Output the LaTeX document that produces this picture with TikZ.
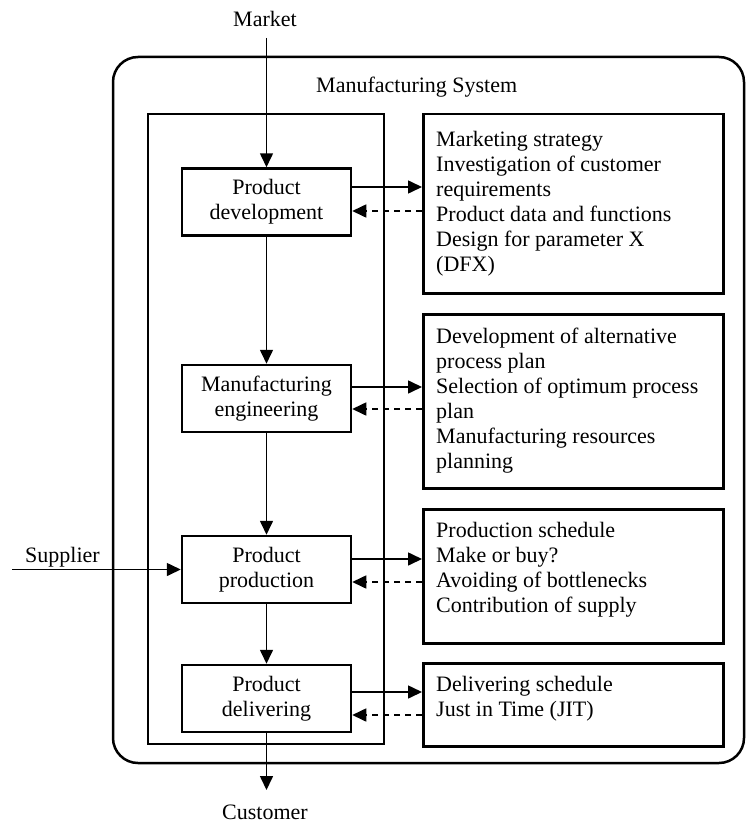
\documentclass[tikz,border=0pt]{standalone}
\usepackage{fontspec}
\setmainfont{Liberation Serif}
\usetikzlibrary{arrows.meta}
\begin{document}
\begin{tikzpicture}[x=1pt,y=-1pt,
  every node/.style={font=\fontsize{22}{25}\selectfont, inner sep=0pt},
  stagebox/.style={draw, line width=2.5pt, minimum width=169pt, minimum height=67pt, align=center},
  infobox/.style={draw, line width=2.5pt, minimum width=300pt, anchor=north west},
  infotext/.style={anchor=north west, align=left},
  flow/.style={line width=1.6pt, -{Triangle[length=14pt,width=13pt]}},
  back/.style={line width=1.6pt, dash pattern=on 6pt off 5pt, -{Triangle[length=14pt,width=13pt]}}
]
\useasboundingbox (0,0) rectangle (746,824);
% frames
\draw[line width=2.5pt, rounded corners=25pt] (113,57) rectangle (744,763);
\draw[line width=2.5pt] (148,114) rectangle (384,744);
\node[anchor=base west] (ms) at (316,93) {Manufacturing System};
% stage boxes
\node[stagebox] (pd) at (266.5,202) {Product\\development};
\node[stagebox] (me) at (266.5,398.5) {Manufacturing\\engineering};
\node[stagebox] (pp) at (266.5,569.5) {Product\\production};
\node[stagebox] (pdl) at (266.5,698.5) {Product\\delivering};
% info boxes
\node[infobox, minimum height=179pt] (b1) at (422,113) {};
\node[infobox, minimum height=174pt] (b2) at (422,313) {};
\node[infobox, minimum height=134pt] (b3) at (422,508) {};
\node[infobox, minimum height=83pt] (b4) at (422,662) {};
\node[infotext] (t1) at (436,131) {Marketing strategy\\Investigation of customer\\requirements\\Product data and functions\\Design for parameter X\\(DFX)};
\node[infotext] (t2) at (436,328) {Development of alternative\\process plan\\Selection of optimum process\\plan\\Manufacturing resources\\planning};
\node[infotext] (t3) at (436,522) {Production schedule\\Make or buy?\\Avoiding of bottlenecks\\Contribution of supply};
\node[infotext] (t4) at (436,676) {Delivering schedule\\Just in Time (JIT)};
% external labels
\node[anchor=base] (mk) at (265,27) {Market};
\node[anchor=base] (cu) at (265,819.5) {Customer};
\node[anchor=base] (su) at (62.5,562) {Supplier};
\coordinate (mtop) at (266.5,38);
\coordinate (cend) at (266.5,790);
\coordinate (sst) at (12,569.5);
% main flow
\draw[flow] (mtop) -- (pd.north);
\draw[flow] (pd.south) -- (me.north);
\draw[flow] (me.south) -- (pp.north);
\draw[flow] (pp.south) -- (pdl.north);
\draw[flow] (pdl.south) -- (cend);
\draw[flow] (sst) -- (pp.west);
% side arrows
\coordinate (s1) at ([yshift=15pt]pd.east);
\coordinate (d1) at ([yshift=-9pt]pd.east);
\coordinate (s2) at ([yshift=11.5pt]me.east);
\coordinate (d2) at ([yshift=-10.5pt]me.east);
\coordinate (s3) at ([yshift=10.5pt]pp.east);
\coordinate (d3) at ([yshift=-12.5pt]pp.east);
\coordinate (s4) at ([yshift=6.5pt]pdl.east);
\coordinate (d4) at ([yshift=-16.5pt]pdl.east);
\draw[flow] (s1) -- (s1 -| b1.west);
\draw[back] (d1 -| b1.west) -- (d1);
\draw[flow] (s2) -- (s2 -| b2.west);
\draw[back] (d2 -| b2.west) -- (d2);
\draw[flow] (s3) -- (s3 -| b3.west);
\draw[back] (d3 -| b3.west) -- (d3);
\draw[flow] (s4) -- (s4 -| b4.west);
\draw[back] (d4 -| b4.west) -- (d4);
\end{tikzpicture}
\end{document}
